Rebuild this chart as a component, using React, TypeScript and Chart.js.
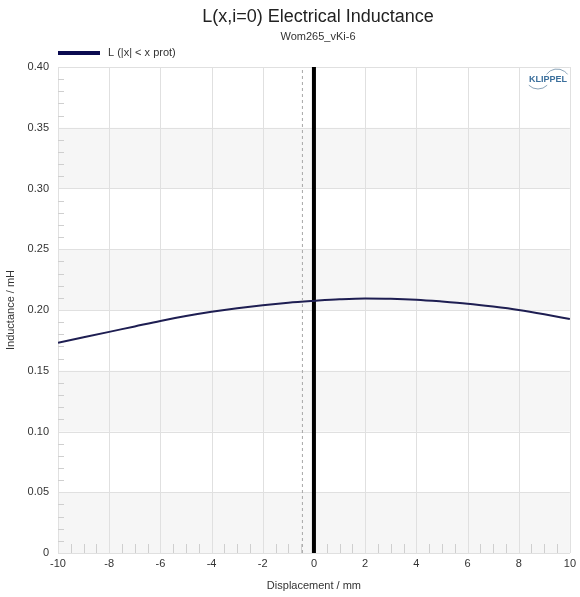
import React, { useEffect, useRef } from "react";
import { Chart, registerables } from "chart.js";

Chart.register(...registerables);

const TITLE = "L(x,i=0) Electrical Inductance";
const SUBTITLE = "Wom265_vKi-6";
const LEGEND_LABEL = "L (|x| < x prot)";
const X_TITLE = "Displacement / mm";
const Y_TITLE = "Inductance / mH";

const displacement = [-10, -9, -8, -7, -6, -5, -4, -3, -2, -1, 0, 1, 2, 3, 4, 5, 6, 7, 8, 9, 10];
const inductance = [
  0.173, 0.1775, 0.182, 0.1865, 0.191, 0.195, 0.1985, 0.2015, 0.204, 0.206, 0.2075,
  0.2088, 0.2095, 0.2093, 0.2085, 0.207, 0.2052, 0.2028, 0.2, 0.1965, 0.1926,
];
const restPosition = 0;
const dashedMarker = -0.45;
const xRange = [-10, 10];
const yRange = [0, 0.4];

const FONT = "Arial, 'Liberation Sans', sans-serif";
const GRID = "#e0e0e0";

const decorPlugin = {
  id: "decor",
  beforeDatasetsDraw(chart: any) {
    const { ctx, chartArea, scales } = chart;
    const y = scales.y;
    const x = scales.x;
    ctx.save();
    for (let v = 0; v < 0.4 - 1e-9; v += 0.1) {
      const top = y.getPixelForValue(v + 0.05);
      const bot = y.getPixelForValue(v);
      ctx.fillStyle = "#f6f6f6";
      ctx.fillRect(chartArea.left, top, chartArea.right - chartArea.left, bot - top);
    }
    ctx.strokeStyle = GRID;
    ctx.lineWidth = 1;
    for (let i = 0; i <= 8; i++) {
      const py = Math.round(y.getPixelForValue(i * 0.05)) + 0.5;
      ctx.beginPath();
      ctx.moveTo(chartArea.left, py);
      ctx.lineTo(chartArea.right, py);
      ctx.stroke();
    }
    for (let v = -10; v <= 10; v += 2) {
      const px = Math.round(x.getPixelForValue(v)) + 0.5;
      ctx.beginPath();
      ctx.moveTo(px, chartArea.top);
      ctx.lineTo(px, chartArea.bottom);
      ctx.stroke();
    }
    ctx.strokeStyle = "#cfcfcf";
    for (let i = 1; i < 40; i++) {
      if (i % 5 === 0) continue;
      const py = Math.round(y.getPixelForValue(i * 0.01)) + 0.5;
      ctx.beginPath();
      ctx.moveTo(chartArea.left, py);
      ctx.lineTo(chartArea.left + 6, py);
      ctx.stroke();
    }
    for (let i = 0; i <= 40; i++) {
      if (i % 4 === 0) continue;
      const v = -10 + i * 0.5;
      const px = Math.round(x.getPixelForValue(v)) + 0.5;
      ctx.beginPath();
      ctx.moveTo(px, chartArea.bottom);
      ctx.lineTo(px, chartArea.bottom - 9);
      ctx.stroke();
    }
    ctx.restore();
  },
  afterDraw(chart: any) {
    const { ctx } = chart;
    ctx.save();
    ctx.fillStyle = "#222";
    ctx.textAlign = "center";
    ctx.textBaseline = "middle";
    ctx.font = `18px ${FONT}`;
    ctx.fillText(TITLE, 318, 17);
    ctx.font = `11px ${FONT}`;
    ctx.fillStyle = "#333";
    ctx.fillText(SUBTITLE, 318, 37);
    ctx.fillStyle = "#0a0a50";
    ctx.fillRect(58, 51, 42, 4);
    ctx.fillStyle = "#333";
    ctx.textAlign = "left";
    ctx.fillText(LEGEND_LABEL, 108, 53);
    // logo
    ctx.strokeStyle = "#8aa3b8";
    ctx.lineWidth = 1;
    ctx.beginPath();
    ctx.arc(557, 82, 13, Math.PI * 1.2, Math.PI * 1.8);
    ctx.stroke();
    ctx.beginPath();
    ctx.arc(538, 76, 13, Math.PI * 0.25, Math.PI * 0.75);
    ctx.stroke();
    ctx.fillStyle = "#3b6f9c";
    ctx.font = `bold 9px ${FONT}`;
    ctx.textAlign = "center";
    ctx.fillText("KLIPPEL", 548, 80);
    ctx.restore();
  },
};

export default function App() {
  const ref = useRef<HTMLCanvasElement>(null);
  useEffect(() => {
    document.body.style.margin = "0";
    const chart = new Chart(ref.current!, {
      type: "line",
      data: {
        datasets: [
          {
            label: "dashed",
            data: [
              { x: dashedMarker, y: yRange[0] },
              { x: dashedMarker, y: yRange[1] },
            ],
            borderColor: "#a8a8a8",
            borderWidth: 1,
            borderDash: [3, 3],
            pointRadius: 0,
          },
          {
            label: LEGEND_LABEL,
            data: displacement.map((d, i) => ({ x: d, y: inductance[i] })),
            borderColor: "#1e1e52",
            borderWidth: 2,
            pointRadius: 0,
            cubicInterpolationMode: "monotone",
          },
          {
            label: "rest",
            data: [
              { x: restPosition, y: yRange[0] },
              { x: restPosition, y: yRange[1] },
            ],
            borderColor: "#000",
            borderWidth: 4,
            pointRadius: 0,
          },
        ],
      },
      options: {
        animation: false,
        responsive: false,
        layout: { padding: { top: 67, right: 7, left: 0, bottom: 0 } },
        plugins: {
          legend: { display: false },
          title: { display: false },
          tooltip: { enabled: false },
        },
        scales: {
          x: {
            type: "linear",
            min: xRange[0],
            max: xRange[1],
            ticks: {
              stepSize: 2,
              color: "#333",
              font: { size: 11, family: FONT },
              padding: 4,
              maxRotation: 0,
            },
            grid: { display: false, drawTicks: false },
            border: { color: GRID },
            title: {
              display: true,
              text: X_TITLE,
              color: "#333",
              font: { size: 11, family: FONT },
              padding: { top: 2 },
            },
            afterFit: (s: any) => {
              s.height = 44;
            },
          },
          y: {
            min: yRange[0],
            max: yRange[1],
            ticks: {
              stepSize: 0.05,
              color: "#333",
              font: { size: 11, family: FONT },
              padding: 9,
              callback: (v: any) => (v === 0 ? "0" : Number(v).toFixed(2)),
            },
            grid: { display: false, drawTicks: false },
            border: { color: GRID },
            title: {
              display: true,
              text: Y_TITLE,
              color: "#333",
              font: { size: 11, family: FONT },
              padding: { bottom: 4 },
            },
            afterFit: (s: any) => {
              s.width = 58;
            },
          },
        },
      },
      plugins: [decorPlugin],
    });
    return () => chart.destroy();
  }, []);
  return (
    <div style={{ width: 580, height: 597 }}>
      <canvas ref={ref} width={580} height={597} style={{ display: "block" }} />
    </div>
  );
}
